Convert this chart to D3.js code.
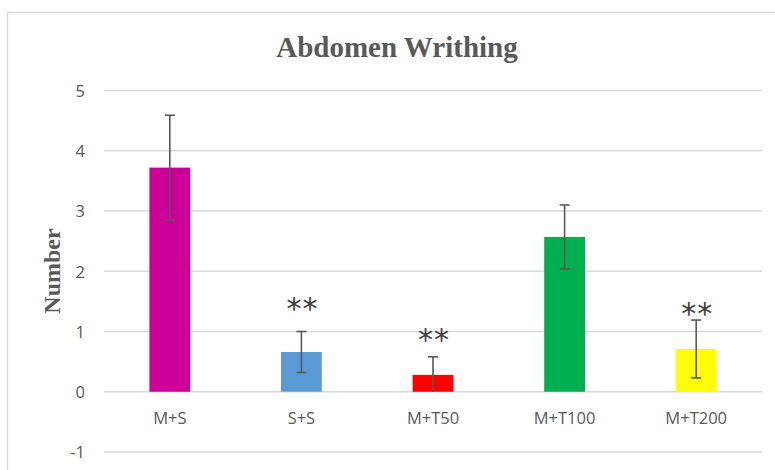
<!DOCTYPE html>
<html>
<head>
<meta charset="utf-8">
<script src="https://cdn.jsdelivr.net/npm/d3@7"></script>
<style>
  html, body { margin: 0; padding: 0; background: #fff; }
  svg { display: block; }
</style>
</head>
<body>
<svg id="chart" width="775" height="470"></svg>
<script>
// Writhing counts per treatment group (mean ± error)
const groups = ["M+S", "S+S", "M+T50", "M+T100", "M+T200"];
const means = [3.72, 0.66, 0.28, 2.57, 0.71];
const errors = [0.87, 0.34, 0.30, 0.53, 0.48];
const barColors = ["#CC0099", "#5B9BD5", "#FF0000", "#00B050", "#FFFF00"];
// significance marks and the value level each one is centred on
const marks = ["", "**", "**", "", "**"];
const markLevels = [null, 1.50, 1.00, null, 1.42];
const yTicks = [-1, 0, 1, 2, 3, 4, 5];

const svg = d3.select("#chart");
const W = 775, H = 470;
const plot = { left: 104, right: 762, top: 90.5, bottom: 452 };

// chart area frame
svg.append("rect")
  .attr("x", 7.5).attr("y", 12.5)
  .attr("width", W + 20).attr("height", H + 20)
  .attr("fill", "#fff").attr("stroke", "#d9d9d9").attr("stroke-width", 1.5);

const x = d3.scaleBand().domain(groups).range([plot.left, plot.right]).paddingInner(0.69).paddingOuter(0.345);
const y = d3.scaleLinear().domain([-1, 5]).range([plot.bottom, plot.top]);

// horizontal gridlines
svg.append("g")
  .selectAll("line")
  .data(yTicks)
  .join("line")
  .attr("x1", plot.left).attr("x2", plot.right)
  .attr("y1", d => y(d)).attr("y2", d => y(d))
  .attr("stroke", "#d9d9d9").attr("stroke-width", 1.5);

// y axis labels
const yAxis = d3.axisLeft(y).tickValues(yTicks).tickSize(0).tickPadding(0).tickFormat(d => String(d));
const gy = svg.append("g").attr("transform", `translate(${plot.left - 19},0)`).call(yAxis);
gy.select(".domain").remove();
gy.selectAll("text")
  .attr("fill", "#595959")
  .attr("dy", "0.36em")
  .style("font-family", "'Open Sans', sans-serif")
  .style("font-size", "16.5px");

// bars
svg.append("g")
  .selectAll("rect")
  .data(groups)
  .join("rect")
  .attr("x", d => x(d))
  .attr("width", x.bandwidth())
  .attr("y", (d, i) => y(means[i]))
  .attr("height", (d, i) => y(0) - y(means[i]))
  .attr("fill", (d, i) => barColors[i]);

// error bars
const eg = svg.append("g").attr("stroke", "#595959").attr("stroke-width", 1.6);
groups.forEach((g, i) => {
  const cx = x(g) + x.bandwidth() / 2;
  const hi = y(means[i] + errors[i]);
  const lo = y(Math.max(0, means[i] - errors[i]));
  eg.append("line").attr("x1", cx).attr("x2", cx).attr("y1", hi).attr("y2", lo);
  eg.append("line").attr("x1", cx - 5).attr("x2", cx + 5).attr("y1", hi).attr("y2", hi);
  if (means[i] - errors[i] > 0) {
    eg.append("line").attr("x1", cx - 5).attr("x2", cx + 5).attr("y1", lo).attr("y2", lo);
  }
});

// significance marks
svg.append("g")
  .selectAll("text")
  .data(groups.filter((d, i) => marks[i]))
  .join("text")
  .attr("x", d => x(d) + x.bandwidth() / 2 + 1)
  .attr("y", d => y(markLevels[groups.indexOf(d)]) + 18)
  .attr("text-anchor", "middle")
  .attr("fill", "#404040")
  .style("font-family", "'DejaVu Sans', sans-serif")
  .style("font-size", "30px")
  .style("letter-spacing", "1px")
  .text(d => marks[groups.indexOf(d)]);

// category labels
svg.append("g")
  .selectAll("text")
  .data(groups)
  .join("text")
  .attr("x", d => x(d) + x.bandwidth() / 2)
  .attr("y", y(0) + 32)
  .attr("text-anchor", "middle")
  .attr("fill", "#595959")
  .style("font-family", "'Open Sans', sans-serif")
  .style("font-size", "16.5px")
  .text(d => d);

// title
svg.append("text")
  .attr("x", 397).attr("y", 56.5)
  .attr("text-anchor", "middle")
  .attr("fill", "#595959")
  .style("font-family", "'Liberation Serif', serif")
  .style("font-weight", "bold")
  .style("font-size", "29px")
  .text("Abdomen Writhing");

// y axis title
svg.append("text")
  .attr("transform", "translate(60,271) rotate(-90)")
  .attr("text-anchor", "middle")
  .attr("fill", "#595959")
  .style("font-family", "'Liberation Serif', serif")
  .style("font-weight", "bold")
  .style("font-size", "24px")
  .text("Number");
</script>
</body>
</html>
